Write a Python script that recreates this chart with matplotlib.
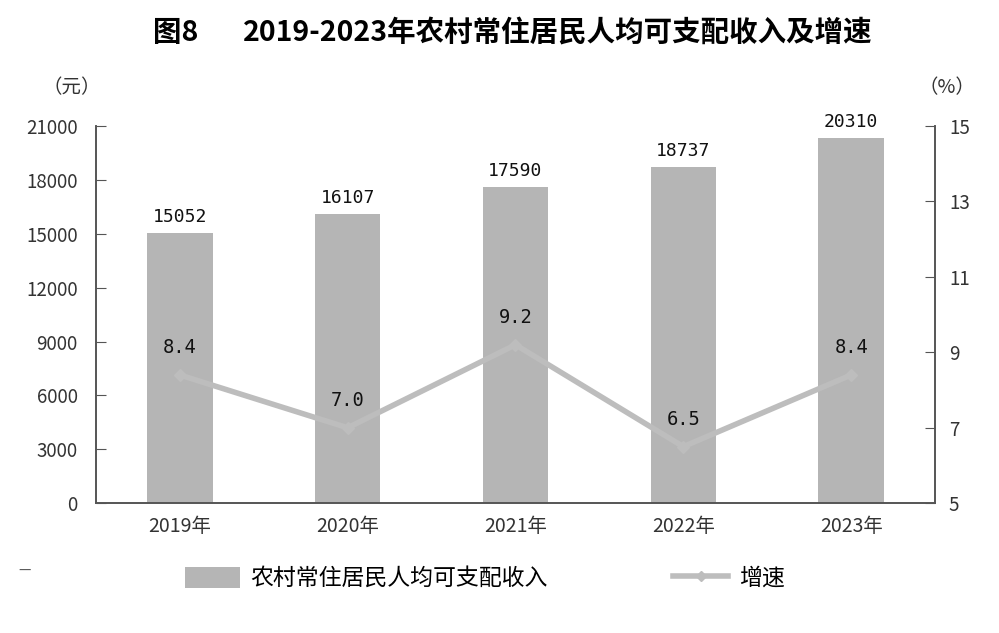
import numpy as np
import matplotlib.pyplot as plt
from matplotlib.patches import Patch
from matplotlib.lines import Line2D

plt.rcParams['font.family'] = ['Noto Sans CJK SC', 'DejaVu Sans']

years = ['2019年', '2020年', '2021年', '2022年', '2023年']
income = [15052, 16107, 17590, 18737, 20310]
growth = [8.4, 7.0, 9.2, 6.5, 8.4]

bar_color = '#b5b5b5'
line_color = '#bdbdbd'
axis_color = '#555555'

fig = plt.figure(figsize=(9.99, 6.33), dpi=100)
ax = fig.add_axes([0.096, 0.205, 0.840, 0.596])
ax2 = ax.twinx()

x = np.arange(len(years))
ax.bar(x, income, width=0.39, color=bar_color, zorder=1)
for xi, v in zip(x, income):
    ax.annotate(str(v), (xi, v), xytext=(0, 5), textcoords='offset points',
                ha='center', va='bottom', fontsize=13, color='#111111',
                family='DejaVu Sans Mono')

ax.set_xlim(-0.5, 4.5)
ax.set_ylim(0, 21000)
ax.set_yticks(np.arange(0, 21001, 3000))
ax.set_xticks(x)
ax.set_xticklabels(years, fontsize=14, color='#333333')
ax.tick_params(axis='y', direction='in', length=7, colors=axis_color, labelsize=13.5,
               labelcolor='#333333', pad=13)
ax.tick_params(axis='x', length=0, pad=9)

ax2.plot(x, growth, color=line_color, lw=4, marker='D', markersize=6, zorder=3)
for xi, v in zip(x, growth):
    ax2.annotate(f'{v:.1f}', (xi, v), xytext=(0, 13), textcoords='offset points',
                 ha='center', va='bottom', fontsize=13.5, color='#111111',
                 family='DejaVu Sans Mono')
ax2.set_ylim(5, 15)
ax2.set_yticks(np.arange(5, 16, 2))
ax2.tick_params(axis='y', direction='in', length=7, colors=axis_color, labelsize=13.5,
                labelcolor='#333333', pad=10)

for a in (ax, ax2):
    a.spines['top'].set_visible(False)
    for s in ('left', 'right', 'bottom'):
        a.spines[s].set_color(axis_color)
        a.spines[s].set_linewidth(1.2)
ax.set_zorder(ax2.get_zorder() - 1)
ax2.patch.set_visible(False)

fig.text(0.153, 0.948, '图8', ha='left', va='center', fontsize=20.5, fontweight='bold')
fig.text(0.243, 0.948, '2019-2023年农村常住居民人均可支配收入及增速',
         ha='left', va='center', fontsize=20.5, fontweight='bold')
fig.text(0.072, 0.862, '（元）', ha='center', va='center', fontsize=14, color='#333333')
fig.text(0.948, 0.862, '（%）', ha='center', va='center', fontsize=14, color='#333333')
fig.text(0.018, 0.098, '—', ha='left', va='center', fontsize=10, color='#555555')

handles = [Patch(facecolor=bar_color, edgecolor='none'),
           Line2D([0], [0], color=line_color, lw=4, marker='D', markersize=5)]
fig.legend(handles, ['农村常住居民人均可支配收入', '增速'], loc='center',
           bbox_to_anchor=(0.485, 0.086), ncol=2, frameon=False, fontsize=16.5,
           handlelength=2.4, handleheight=1.0, columnspacing=5.5, handletextpad=0.45)

fig.savefig('out.png', dpi=100)
